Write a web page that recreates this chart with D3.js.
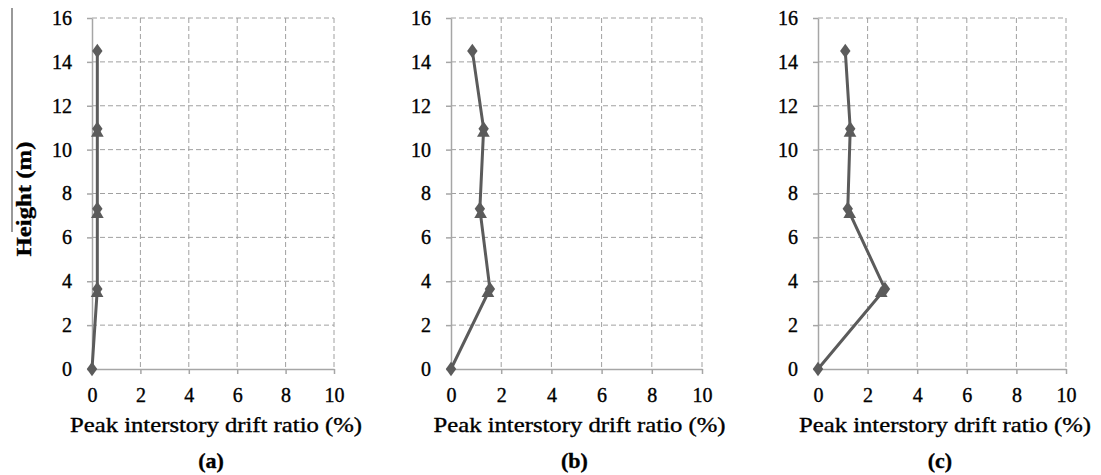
<!DOCTYPE html>
<head>
    <meta charset="utf-8">
    <script src="https://d3js.org/d3.v7.min.js"></script>
    <style>
        body { margin: 0; background: #fff; }
        svg text { font-family: "Liberation Serif"; fill: #000; stroke: #000; stroke-width: 0.35px; }
        .grid line { stroke: #a0a0a0; stroke-dasharray: 5, 3; stroke-width: 1; }
        .axis path, .axis line { stroke: #a6a6a6; stroke-width: 1.5; }
    </style>
</head>
<body>
    <svg width="1101" height="475"></svg>
    <script>
        // data
        var panelLabels = ["(a)", "(b)", "(c)"];
        var diamondHeights = [0, 3.65, 7.3, 10.95, 14.5];
        var triangleHeights = [3.45, 7.05, 10.75];
        var diamondDrift = [
            [0, 0.22, 0.22, 0.22, 0.22],
            [0, 1.55, 1.15, 1.3, 0.85],
            [0, 2.7, 1.2, 1.3, 1.1]
        ];
        var triangleDrift = [
            [0.21, 0.22, 0.22],
            [1.47, 1.18, 1.29],
            [2.55, 1.28, 1.29]
        ];
        var xTicks = [0, 2, 4, 6, 8, 10];
        var yTicks = [0, 2, 4, 6, 8, 10, 12, 14, 16];
        var xTitle = "Peak interstory drift ratio (%)";
        var yTitle = "Height (m)";

        var svg = d3.select("svg");
        var lefts = [92, 451, 818], rights = [334, 702, 1066];
        var plotTop = 18, plotBottom = 369;
        var lineColor = "#5b5b5b";

        var y = d3.scaleLinear().domain([0, 16]).range([plotBottom, plotTop]);

        // stray rule at far left of the figure
        svg.append("line")
            .attr("x1", 12).attr("x2", 12).attr("y1", 8).attr("y2", 232)
            .attr("stroke", "#777").attr("stroke-width", 1.5);

        panelLabels.forEach(function (lab, i) {
            var x = d3.scaleLinear().domain([0, 10]).range([lefts[i], rights[i]]);
            var g = svg.append("g");

            // dashed grid
            g.append("g").attr("class", "grid")
                .selectAll("line").data(xTicks.slice(1)).enter().append("line")
                .attr("x1", d => x(d)).attr("x2", d => x(d))
                .attr("y1", plotTop).attr("y2", plotBottom);
            g.append("g").attr("class", "grid")
                .selectAll("line").data(yTicks.slice(1)).enter().append("line")
                .attr("x1", lefts[i]).attr("x2", rights[i])
                .attr("y1", d => y(d)).attr("y2", d => y(d));

            g.append("g").attr("class", "axis")
                .attr("transform", "translate(0," + plotBottom + ")")
                .call(d3.axisBottom(x).tickValues(xTicks).tickSize(5).tickPadding(14).tickSizeOuter(0));
            g.append("g").attr("class", "axis")
                .attr("transform", "translate(" + lefts[i] + ",0)")
                .call(d3.axisLeft(y).tickValues(yTicks).tickSize(5).tickPadding(15).tickSizeOuter(0));
            g.selectAll(".axis").attr("font-family", null).attr("font-size", null);
            g.selectAll(".axis text").style("font-size", "20px");

            // drift profile line (through the diamond points)
            var line = d3.line().x(d => x(d[0])).y(d => y(d[1]));
            var dPts = diamondDrift[i].map((v, k) => [v, diamondHeights[k]]);
            var tPts = triangleDrift[i].map((v, k) => [v, triangleHeights[k]]);
            g.append("path").datum(dPts).attr("d", line)
                .attr("fill", "none").attr("stroke", lineColor).attr("stroke-width", 3);

            g.selectAll(".tri").data(tPts).enter().append("path")
                .attr("d", d3.symbol().type(d3.symbolTriangle).size(70))
                .attr("transform", d => "translate(" + x(d[0]) + "," + y(d[1]) + ")")
                .attr("fill", lineColor);
            g.selectAll(".dia").data(dPts).enter().append("path")
                .attr("d", d3.symbol().type(d3.symbolDiamond).size(60))
                .attr("transform", d => "translate(" + x(d[0]) + "," + y(d[1]) + ") scale(1.25,1)")
                .attr("fill", lineColor);

            var cx = (lefts[i] + rights[i]) / 2;
            g.append("text")
                .attr("x", cx + 3).attr("y", 432)
                .attr("text-anchor", "middle")
                .style("font-size", "21px")
                .attr("textLength", 292).attr("lengthAdjust", "spacingAndGlyphs")
                .text(xTitle);
            g.append("text")
                .attr("x", cx - 2).attr("y", 468)
                .attr("text-anchor", "middle")
                .style("font-size", "22px").style("font-weight", "bold")
                .text(lab);
        });

        svg.append("text")
            .attr("transform", "translate(31,199) rotate(-90)")
            .attr("text-anchor", "middle")
            .style("font-size", "22px").style("font-weight", "bold")
            .attr("textLength", 115).attr("lengthAdjust", "spacingAndGlyphs")
            .text(yTitle);
    </script>
</body>
